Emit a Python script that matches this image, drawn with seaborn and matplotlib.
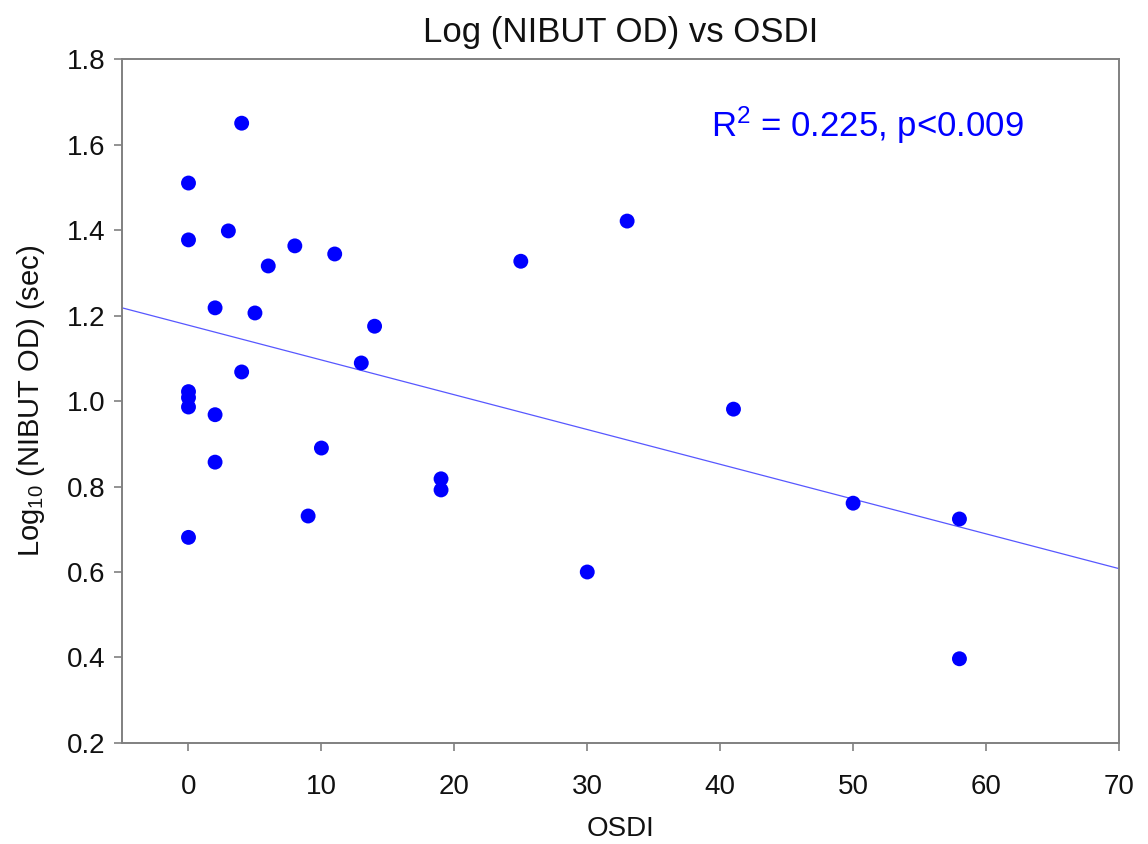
import matplotlib
matplotlib.use("Agg")
import matplotlib.pyplot as plt
import seaborn as sns
import numpy as np
import pandas as pd

# OSDI score and log10 of non-invasive break-up time (right eye)
osdi = [0, 0, 0, 0, 0, 0, 2, 2, 2, 3, 4, 4, 5, 6, 8, 9, 10, 11, 13, 14,
        19, 19, 25, 30, 33, 41, 50, 58, 58]
log_nibut = [1.51, 1.377, 1.022, 1.008, 0.986, 0.681, 1.218, 0.968, 0.857,
             1.398, 1.650, 1.068, 1.206, 1.316, 1.363, 0.731, 0.890, 1.344,
             1.089, 1.175, 0.818, 0.792, 1.327, 0.600, 1.421, 0.981, 0.761,
             0.724, 0.397]

x_ticks = [0, 10, 20, 30, 40, 50, 60, 70]
y_ticks = [0.2, 0.4, 0.6, 0.8, 1.0, 1.2, 1.4, 1.6, 1.8]

df = pd.DataFrame({"OSDI": osdi, "logNIBUT": log_nibut})

sns.set_style("white")
plt.rcParams["font.family"] = ["Liberation Sans", "DejaVu Sans"]
plt.rcParams["mathtext.default"] = "regular"

fig = plt.figure(figsize=(11.48, 8.44), dpi=100)
ax = fig.add_axes([0.1063, 0.1197, 0.9747 - 0.1063, 0.930 - 0.1197])
ax.set_xlim(-5, 70)
ax.set_ylim(0.2, 1.8)

# least-squares fit line across the full axis range
sns.regplot(data=df, x="OSDI", y="logNIBUT", ax=ax, ci=None, truncate=False,
            scatter=False, line_kws=dict(color="#3a3aff", lw=0.9, alpha=0.85))
sns.scatterplot(data=df, x="OSDI", y="logNIBUT", ax=ax, color="#0000ff",
                s=115, edgecolor="none", zorder=3)

ax.set_xlim(-5, 70)
ax.set_ylim(0.2, 1.8)
ax.set_xticks(x_ticks)
ax.set_yticks(y_ticks)
ax.set_yticklabels([f"{v:.1f}" for v in y_ticks])

for s in ax.spines.values():
    s.set_color("#808080")
    s.set_linewidth(1.4)
ax.tick_params(axis="both", direction="out", length=6, width=1.2,
               color="#808080", labelsize=20, labelcolor="#111111",
               bottom=True, left=True, top=False, right=False)
ax.tick_params(axis="x", pad=16)
ax.tick_params(axis="y", pad=6)

ax.set_xlabel("OSDI", fontsize=20, labelpad=12, color="#111111")
ax.set_ylabel("Log$_{10}$ (NIBUT OD) (sec)", fontsize=21, labelpad=14,
              color="#111111")
ax.set_title("Log (NIBUT OD) vs OSDI", fontsize=25, pad=12, color="#111111")

ax.text(0.591, 0.903, "R$^2$ = 0.225, p<0.009", transform=ax.transAxes,
        fontsize=25, color="#0000ff", ha="left", va="center")

fig.savefig("out.png", dpi=100)
